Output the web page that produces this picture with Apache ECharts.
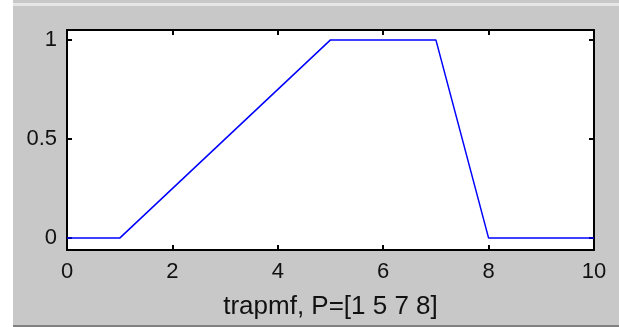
<!DOCTYPE html>
<html>
<head>
<meta charset="UTF-8">
<title>trapmf</title>
<script src="https://cdn.jsdelivr.net/npm/echarts@6/dist/echarts.min.js"></script>
<style>
  html, body { margin: 0; padding: 0; background: #c8c8c8; }
</style>
</head>
<body>
<div id="main" style="width: 619px; height: 327px;"></div>
<script type="text/javascript">
// trapmf, P=[1 5 7 8] -- corner points of the membership function
var xs = [0, 1, 5, 7, 8, 10];
var mu = [0, 0, 1, 1, 0, 0];
var xTicks = [0, 2, 4, 6, 8, 10];
var yTicks = [0, 0.5, 1];
var caption = 'trapmf, P=[1 5 7 8]';

var pts = [];
for (var i = 0; i < xs.length; i++) {
    pts.push([xs[i], mu[i]]);
}

var myChart = echarts.init(document.getElementById('main'));

var font = { fontFamily: 'Liberation Sans, Arial, sans-serif', fontSize: 22, color: '#111' };
var black = { color: '#000', width: 2 };

var option = {
    animation: false,
    backgroundColor: '#c8c8c8',
    graphic: [
        // window frame bits
        { type: 'rect', shape: { x: 0, y: 0, width: 13, height: 327 }, style: { fill: '#ffffff' } },
        { type: 'rect', shape: { x: 13, y: 3, width: 606, height: 3 }, style: { fill: '#e6e6e6' } },
        { type: 'rect', shape: { x: 13, y: 325, width: 606, height: 2 }, style: { fill: '#808080' } }
    ],
    grid: {
        left: 67, top: 30, width: 527, height: 220,
        show: true, backgroundColor: '#ffffff', borderWidth: 0
    },
    xAxis: [
        {
            type: 'value', min: 0, max: 10, interval: 2,
            name: caption, nameLocation: 'middle', nameGap: 44,
            nameTextStyle: Object.assign({}, font, { fontSize: 26 }),
            axisLine: { show: true, onZero: false, lineStyle: black },
            axisTick: { inside: true, length: 5, customValues: xTicks, lineStyle: black },
            axisLabel: Object.assign({ margin: 11, customValues: xTicks }, font),
            splitLine: { show: false }
        },
        {
            type: 'value', position: 'top', min: 0, max: 10, interval: 2,
            axisLine: { show: true, onZero: false, lineStyle: black },
            axisTick: { inside: true, length: 5, customValues: xTicks, lineStyle: black },
            axisLabel: { show: false },
            splitLine: { show: false }
        }
    ],
    yAxis: [
        {
            type: 'value', min: -0.06, max: 1.05,
            axisLine: { show: true, onZero: false, lineStyle: black },
            axisTick: { inside: true, length: 5, customValues: yTicks, lineStyle: black },
            axisLabel: Object.assign({ margin: 10, customValues: yTicks }, font),
            splitLine: { show: false }
        },
        {
            type: 'value', position: 'right', min: -0.06, max: 1.05,
            axisLine: { show: true, onZero: false, lineStyle: black },
            axisTick: { inside: true, length: 5, customValues: yTicks, lineStyle: black },
            axisLabel: { show: false },
            splitLine: { show: false }
        }
    ],
    series: [
        {
            type: 'line',
            data: pts,
            showSymbol: false,
            lineStyle: { color: '#0000ff', width: 1.5 }
        }
    ]
};

myChart.setOption(option);
</script>
</body>
</html>
